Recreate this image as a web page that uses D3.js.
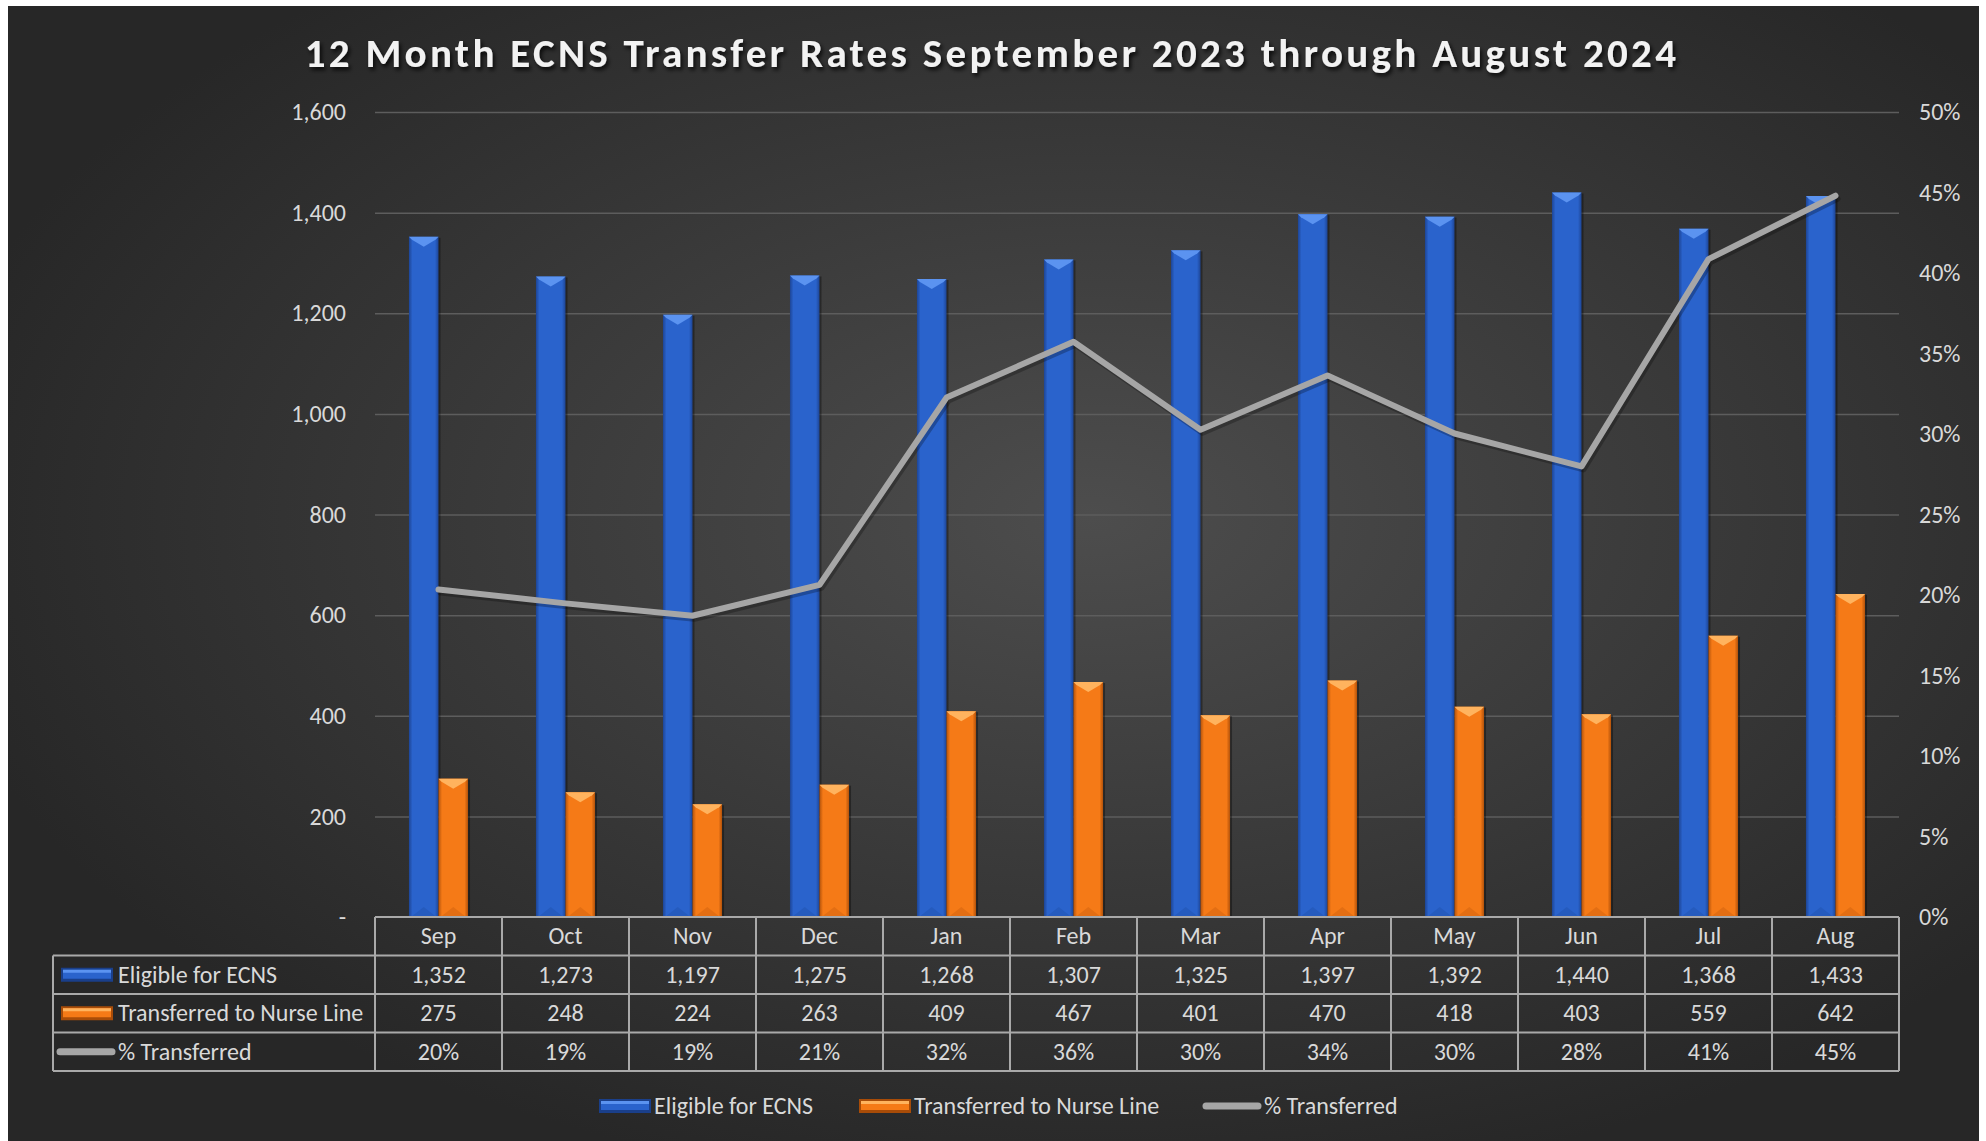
<!DOCTYPE html>
<html>
<head>
<meta charset="utf-8">
<script src="https://cdn.jsdelivr.net/npm/d3@7"></script>
<style>
  html, body { margin: 0; padding: 0; background: #fff; }
  svg { display: block; font-family: Carlito, Lato, "Open Sans", sans-serif; }
</style>
</head>
<body>
<svg id="chart" width="1986" height="1141"></svg>
<script>
// data
const months = ['Sep', 'Oct', 'Nov', 'Dec', 'Jan', 'Feb', 'Mar', 'Apr', 'May', 'Jun', 'Jul', 'Aug'];
const eligible = [1352, 1273, 1197, 1275, 1268, 1307, 1325, 1397, 1392, 1440, 1368, 1433];
const transferred = [275, 248, 224, 263, 409, 467, 401, 470, 418, 403, 559, 642];
const pctTransferred = [0.2034, 0.1948, 0.1871, 0.2063, 0.3226, 0.3573, 0.3026, 0.3364, 0.3003, 0.2799, 0.4086, 0.4480];
const leftTicks = [0, 200, 400, 600, 800, 1000, 1200, 1400, 1600];
const rightTicks = [0, 0.05, 0.1, 0.15, 0.2, 0.25, 0.3, 0.35, 0.4, 0.45, 0.5];
const seriesNames = ['Eligible for ECNS', 'Transferred to Nurse Line', '% Transferred'];

const titleText = '12 Month ECNS Transfer Rates September 2023 through August 2024';

const svg = d3.select('#chart');
const defs = svg.append('defs');

// plot box
const plotLeft = 375, plotRight = 1899, plotTop = 112, plotBottom = 917;
const rowH = 38.5;
const tableLeft = 53;
const fontSize = '24px';
const textColor = '#d9d9d9';

// background gradient
const bg = defs.append('radialGradient').attr('id', 'bg')
  .attr('cx', '55%').attr('cy', '45%').attr('r', '60%');
bg.append('stop').attr('offset', '0%').attr('stop-color', '#4d4d4d');
bg.append('stop').attr('offset', '100%').attr('stop-color', '#272727');

svg.append('rect')
  .attr('x', 8).attr('y', 6)
  .attr('width', 1971).attr('height', 1135)
  .attr('fill', 'url(#bg)');

// bar gradients
function barGradient(id, dark, mid) {
  const g = defs.append('linearGradient').attr('id', id)
    .attr('x1', '0%').attr('x2', '100%').attr('y1', '0%').attr('y2', '0%');
  g.append('stop').attr('offset', '0%').attr('stop-color', dark);
  g.append('stop').attr('offset', '12%').attr('stop-color', mid);
  g.append('stop').attr('offset', '88%').attr('stop-color', mid);
  g.append('stop').attr('offset', '100%').attr('stop-color', dark);
}
barGradient('gBlue', '#1d4596', '#2a63cc');
barGradient('gOrange', '#b3520a', '#f57a17');

const shadow = defs.append('filter').attr('id', 'tshadow')
  .attr('x', '-5%').attr('y', '-30%').attr('width', '110%').attr('height', '160%');
shadow.append('feDropShadow').attr('dx', 2).attr('dy', 3)
  .attr('stdDeviation', 2).attr('flood-color', '#000').attr('flood-opacity', 0.8);

// scales
const x = d3.scaleBand().domain(months).range([plotLeft, plotRight]).padding(0);
const xSub = d3.scaleBand().domain(['e', 't']).range([0, x.bandwidth()])
  .paddingInner(0).paddingOuter(1.15);
const yL = d3.scaleLinear().domain([0, 1600]).range([plotBottom, plotTop]);
const yR = d3.scaleLinear().domain([0, 0.5]).range([plotBottom, plotTop]);

// gridlines
svg.append('g')
  .attr('transform', `translate(${plotLeft},0)`)
  .call(d3.axisLeft(yL).tickValues(leftTicks.filter(d => d > 0)).tickSize(-(plotRight - plotLeft)).tickFormat(''))
  .call(g => g.select('.domain').remove())
  .call(g => g.selectAll('line').attr('stroke', '#5d5d5d').attr('stroke-width', 1.5));

// left axis
svg.append('g')
  .attr('transform', `translate(${plotLeft},0)`)
  .call(d3.axisLeft(yL).tickValues(leftTicks).tickSize(0).tickPadding(29)
    .tickFormat(d => d === 0 ? '-' : d3.format(',')(d)))
  .call(g => g.select('.domain').remove())
  .call(g => g.selectAll('text').attr('fill', textColor).style('font-size', fontSize)
    .style('font-family', 'Carlito, Lato, sans-serif'));

// right axis
svg.append('g')
  .attr('transform', `translate(${plotRight},0)`)
  .call(d3.axisRight(yR).tickValues(rightTicks).tickSize(0).tickPadding(20)
    .tickFormat(d3.format('.0%')))
  .call(g => g.select('.domain').remove())
  .call(g => g.selectAll('text').attr('fill', textColor).style('font-size', fontSize)
    .style('font-family', 'Carlito, Lato, sans-serif'));

// bars
function drawBars(values, key, fillId, lightColor, darkColor) {
  const g = svg.append('g');
  const w = xSub.bandwidth();
  const bevel = 10;
  months.forEach((m, i) => {
    const bx = x(m) + xSub(key);
    const by = yL(values[i]);
    const h = plotBottom - by;
    g.append('rect')
      .attr('x', bx + 2).attr('y', by + 1)
      .attr('width', w).attr('height', h - 1)
      .attr('fill', '#000').attr('opacity', 0.35);
    g.append('rect')
      .attr('x', bx).attr('y', by)
      .attr('width', w).attr('height', h)
      .attr('fill', `url(#${fillId})`);
    g.append('polygon')
      .attr('points', [[bx, by], [bx + w, by], [bx + w - 3, by + 3], [bx + w / 2, by + bevel], [bx + 3, by + 3]].join(' '))
      .attr('fill', lightColor);
    g.append('polygon')
      .attr('points', [[bx + 2, plotBottom], [bx + w - 2, plotBottom], [bx + w / 2, plotBottom - bevel]].join(' '))
      .attr('fill', darkColor).attr('opacity', 0.2);
  });
}
drawBars(eligible, 'e', 'gBlue', '#5b93f0', '#163a85');
drawBars(transferred, 't', 'gOrange', '#ffb35e', '#9c4205');

// line
const line = d3.line()
  .x((d, i) => x(months[i]) + x.bandwidth() / 2)
  .y(d => yR(d));

svg.append('path')
  .datum(pctTransferred)
  .attr('d', line)
  .attr('fill', 'none')
  .attr('stroke', '#000').attr('stroke-opacity', 0.25)
  .attr('stroke-width', 6)
  .attr('transform', 'translate(2,3)')
  .attr('stroke-linejoin', 'round').attr('stroke-linecap', 'round');

svg.append('path')
  .datum(pctTransferred)
  .attr('d', line)
  .attr('fill', 'none')
  .attr('stroke', '#a6a6a6')
  .attr('stroke-width', 6)
  .attr('stroke-linejoin', 'round').attr('stroke-linecap', 'round');

// title
svg.append('text')
  .attr('x', 992).attr('y', 67)
  .attr('text-anchor', 'middle')
  .attr('fill', '#f2f2f2')
  .attr('filter', 'url(#tshadow)')
  .style('font-size', '41px').style('font-weight', 'bold')
  .style('letter-spacing', '3.3px')
  .text(titleText);

// data table
const tableColor = '#a9a9a9';
const table = svg.append('g');
const rows = [
  eligible.map(d3.format(',')),
  transferred.map(d3.format(',')),
  pctTransferred.map(d3.format('.0%'))
];

// header row with months
table.selectAll('text.month')
  .data(months)
  .join('text')
  .attr('class', 'month')
  .attr('x', d => x(d) + x.bandwidth() / 2)
  .attr('y', plotBottom + rowH / 2 + 8)
  .attr('text-anchor', 'middle')
  .attr('fill', textColor)
  .style('font-size', fontSize)
  .text(d => d);

rows.forEach((vals, r) => {
  const yMid = plotBottom + rowH * (r + 1) + rowH / 2;
  table.selectAll(`text.r${r}`)
    .data(vals)
    .join('text')
    .attr('class', `r${r}`)
    .attr('x', (d, i) => x(months[i]) + x.bandwidth() / 2)
    .attr('y', yMid + 8)
    .attr('text-anchor', 'middle')
    .attr('fill', textColor)
    .style('font-size', fontSize)
    .text(d => d);

  table.append('text')
    .attr('x', 118).attr('y', yMid + 8)
    .attr('fill', textColor)
    .style('font-size', fontSize)
    .text(seriesNames[r]);
});

// legend keys
function legendKey(g, kind, kx, ky) {
  if (kind === 2) {
    g.append('line')
      .attr('x1', kx + 4).attr('x2', kx + 56)
      .attr('y1', ky).attr('y2', ky)
      .attr('stroke', '#a6a6a6').attr('stroke-width', 7)
      .attr('stroke-linecap', 'round');
    return;
  }
  const base = kind === 0 ? '#2a63cc' : '#f57a17';
  const light = kind === 0 ? '#5b93f0' : '#ffb35e';
  const dark = kind === 0 ? '#1a3f8a' : '#a84c08';
  g.append('rect').attr('x', kx + 5).attr('y', ky - 7).attr('width', 52).attr('height', 14).attr('fill', dark);
  g.append('rect').attr('x', kx + 7).attr('y', ky - 5).attr('width', 48).attr('height', 9).attr('fill', base);
  g.append('rect').attr('x', kx + 7).attr('y', ky - 5).attr('width', 48).attr('height', 3).attr('fill', light);
}
[0, 1, 2].forEach(r => {
  legendKey(table, r, 56, plotBottom + rowH * (r + 1) + rowH / 2);
});

// grid lines of the table
const hLines = [
  { y: plotBottom, x1: plotLeft },
  { y: plotBottom + rowH, x1: tableLeft },
  { y: plotBottom + rowH * 2, x1: tableLeft },
  { y: plotBottom + rowH * 3, x1: tableLeft },
  { y: plotBottom + rowH * 4, x1: tableLeft }
];
table.selectAll('line.h')
  .data(hLines)
  .join('line')
  .attr('class', 'h')
  .attr('x1', d => d.x1).attr('x2', plotRight)
  .attr('y1', d => d.y).attr('y2', d => d.y)
  .attr('stroke', tableColor).attr('stroke-width', 2);

const vX = months.map(m => x(m)).concat([plotRight]);
table.selectAll('line.v')
  .data(vX)
  .join('line')
  .attr('class', 'v')
  .attr('x1', d => d).attr('x2', d => d)
  .attr('y1', plotBottom).attr('y2', plotBottom + rowH * 4)
  .attr('stroke', tableColor).attr('stroke-width', 2);

table.append('line')
  .attr('x1', tableLeft).attr('x2', tableLeft)
  .attr('y1', plotBottom + rowH).attr('y2', plotBottom + rowH * 4)
  .attr('stroke', tableColor).attr('stroke-width', 2);

// bottom legend
const legendItems = [
  { kind: 0, kx: 594, tx: 654 },
  { kind: 1, kx: 854, tx: 914 },
  { kind: 2, kx: 1202, tx: 1264 }
];
const legend = svg.append('g');
legendItems.forEach((d, i) => {
  legendKey(legend, d.kind, d.kx, 1106);
  legend.append('text')
    .attr('x', d.tx).attr('y', 1114)
    .attr('fill', textColor)
    .style('font-size', fontSize)
    .text(seriesNames[i]);
});
</script>
</body>
</html>
